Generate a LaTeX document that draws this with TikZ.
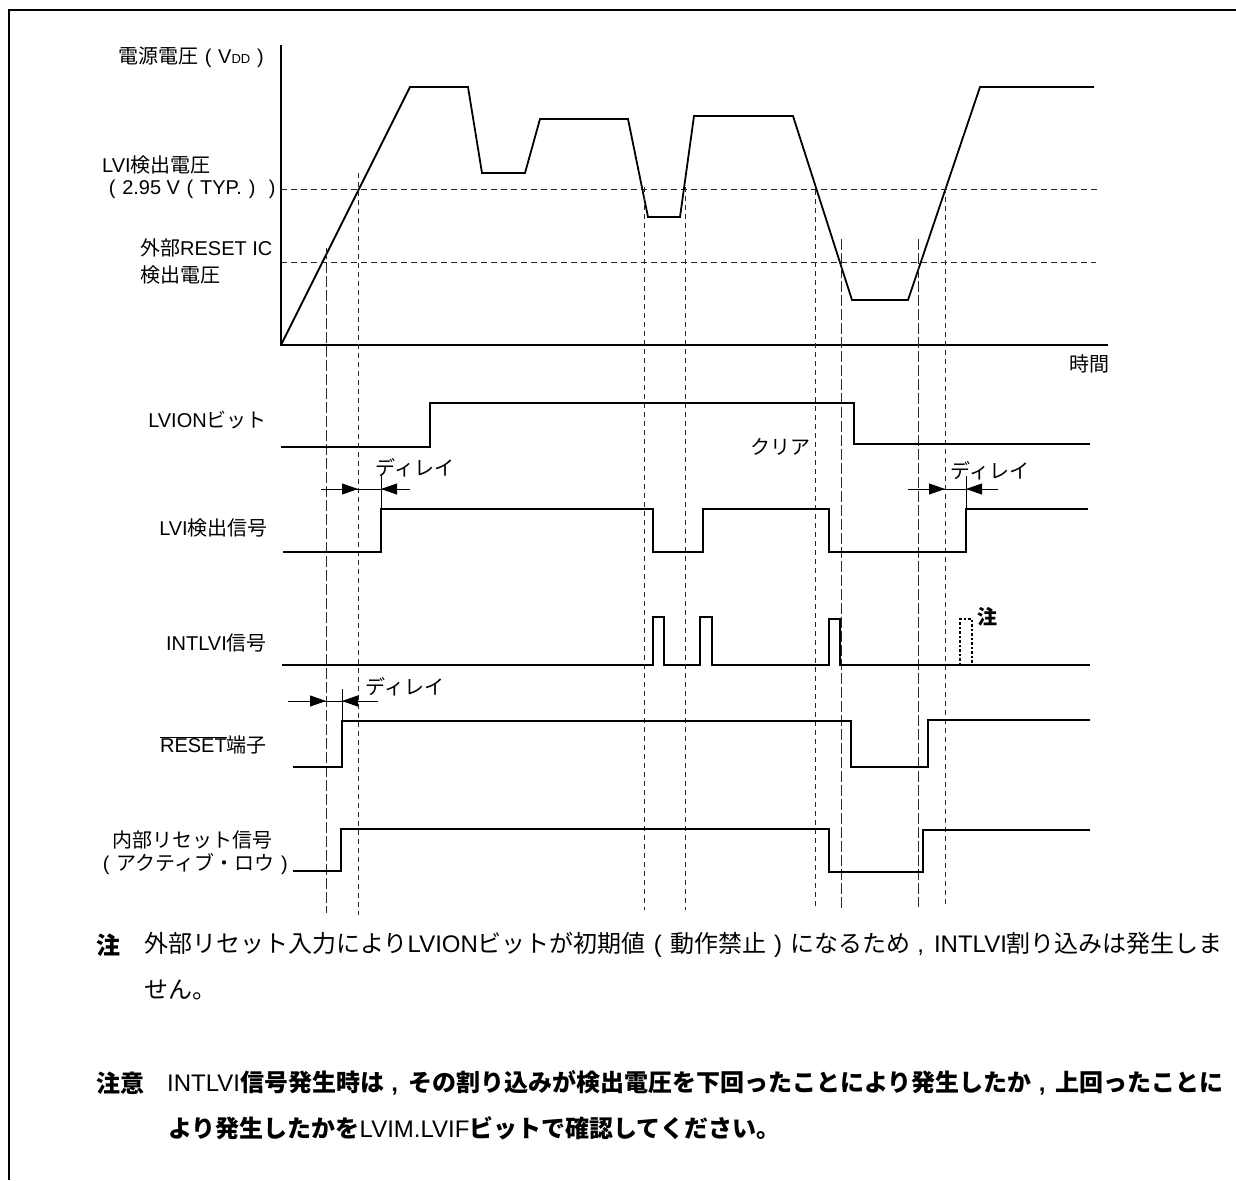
\documentclass[tikz,border=0pt]{standalone}
\usepackage{fontspec}
\setmainfont{Liberation Sans}
\newfontfamily\jp{Noto Sans CJK JP}
\usetikzlibrary{arrows.meta}
\newcommand\jlp{\hspace{0.33em}(\hspace{0.34em}}
\newcommand\jrp{\hspace{0.34em})\hspace{0.33em}}
\newcommand\jcm{\hspace{0.3em},\hspace{0.42em}}
\begin{document}
\begin{tikzpicture}[x=1pt,y=-1pt,
  wave/.style={line width=1.8pt, line join=miter},
  axisln/.style={line width=2pt},
  dsh/.style={line width=1pt, black!85, dash pattern=on 5pt off 4pt},
  ldsh/.style={line width=1pt, black!85, dash pattern=on 11pt off 3pt},
  hdsh/.style={line width=1pt, black!85, dash pattern=on 6pt off 4pt},
  lbl/.style={font=\fontsize{20}{24}\selectfont, inner sep=0pt},
  notetxt/.style={font=\fontsize{24}{28}\selectfont, inner sep=0pt, anchor=west},
  dly/.style={line width=0.8pt},
  dlytip/.style={line width=0.8pt, -{Triangle[length=16pt,width=11pt]}}
]
\useasboundingbox (0,0) rectangle (1236,1180);
% frame
\draw[line width=2pt] (9,1180) -- (9,10) -- (1236,10);

% axes
\draw[axisln] (281,45) -- (281,345) -- (1108,345);
\node[lbl, anchor=east] (time) at (1110,364) {\jp 時間};

% threshold lines
\draw[hdsh] (281,189) -- (1099,189);
\draw[hdsh] (281,262) -- (1096,262);

% VDD waveform
\draw[wave] (281,345) -- (410,87) -- (468,87) -- (482,173) -- (525,173) -- (540,119) -- (628,119) -- (648,217) -- (680,217) -- (694,116) -- (793,116) -- (852,300) -- (908,300) -- (980,87) -- (1094,87);

% vertical guide lines
\draw[ldsh] (326,248) -- (326,913);
\draw[dsh] (358,173) -- (358,915);
\draw[dsh] (644,187) -- (644,910);
\draw[dsh] (685,187) -- (685,910);
\draw[dsh] (815,190) -- (815,910);
\draw[ldsh] (841,239) -- (841,908);
\draw[ldsh] (918,239) -- (918,907);
\draw[dsh] (945,188) -- (945,905);

% top labels
\node[lbl, anchor=east] (vdd) at (264,57) {{\jp 電源電圧}\jlp V{\fontsize{13}{13}\selectfont DD}\jrp};
\node[lbl, anchor=west] (lvia) at (102,165) {LVI{\jp 検出電圧}};
\node[lbl, anchor=west] (lvib) at (102,189) {\jlp 2.95 V\jlp TYP.\jrp\jrp};
\node[lbl, anchor=west] (exta) at (140,248) {{\jp 外部}RESET IC};
\node[lbl, anchor=west] (extb) at (140,275) {\jp 検出電圧};

% LVION bit
\node[lbl, anchor=east] (lvion) at (267,420) {LVION{\jp ビット}};
\draw[wave] (281,447) -- (430,447) -- (430,403) -- (854,403) -- (854,444) -- (1090,444);
\node[lbl] (clr) at (780,447) {\jp クリア};

% LVI detect signal
\node[lbl, anchor=east] (lvidet) at (268,528) {LVI{\jp 検出信号}};
\draw[wave] (283,552) -- (381,552) -- (381,509) -- (653,509) -- (653,552) -- (703,552) -- (703,509) -- (829,509) -- (829,552) -- (966,552) -- (966,509) -- (1088,509);

% delay 1
\draw[dly] (321,489) -- (410,489);
\draw[dlytip] (321,489) -- (358,489);
\draw[dlytip] (410,489) -- (381,489);
\draw[dly] (381,475) -- (381,509);
\node[lbl] (d1) at (415,468) {\jp ディレイ};

% delay 2
\draw[dly] (908,489) -- (998,489);
\draw[dlytip] (908,489) -- (945,489);
\draw[dlytip] (998,489) -- (966,489);
\draw[dly] (966,476) -- (966,509);
\node[lbl] (d2) at (990,471) {\jp ディレイ};

% INTLVI
\node[lbl, anchor=east] (intlvi) at (267,643) {INTLVI{\jp 信号}};
\draw[wave] (282,665) -- (653,665) -- (653,617) -- (664,617) -- (664,665) -- (700,665) -- (700,617) -- (712,617) -- (712,665) -- (829,665) -- (829,619) -- (840,619) -- (840,665) -- (1090,665);
\draw[line width=1.3pt, dash pattern=on 2.5pt off 2pt] (960,665) -- (960,619) -- (972,619) -- (972,665);
\node[lbl, anchor=west] (chu) at (977,617) {\jp\bfseries 注};

% delay 3
\draw[dly] (288,701) -- (378,701);
\draw[dlytip] (288,701) -- (326,701);
\draw[dlytip] (378,701) -- (342,701);
\draw[dly] (342,689) -- (342,721);
\node[lbl] (d3) at (405,687) {\jp ディレイ};

% RESET pin
\node[lbl, anchor=east] (rst) at (267,745) {$\overline{\mbox{RESET}}${\jp 端子}};
\draw[wave] (293,767) -- (342,767) -- (342,721) -- (851,721) -- (851,767) -- (928,767) -- (928,720) -- (1090,720);

% internal reset
\node[lbl] (irsta) at (192,840) {\jp 内部リセット信号};
\node[lbl] (irstb) at (192,864) {\jlp{\jp アクティブ・ロウ}\jrp};
\draw[wave] (293,871) -- (341,871) -- (341,829) -- (829,829) -- (829,872) -- (923,872) -- (923,830) -- (1090,830);

% notes
\node[notetxt] (n1k) at (96,945) {\jp\bfseries 注};
\node[notetxt] (n1a) at (144,945) {{\jp 外部リセット入力により}LVION{\jp ビットが初期値}\jlp{\jp 動作禁止}\jrp{\jp になるため}\jcm INTLVI{\jp 割り込みは発生しま}};
\node[notetxt] (n1b) at (144,990) {\jp せん。};
\node[notetxt] (n2k) at (96,1083) {\jp\bfseries 注意};
\node[notetxt] (n2a) at (167,1083) {INTLVI{\jp\bfseries 信号発生時は}{\bfseries\jcm}{\jp\bfseries その割り込みが検出電圧を下回ったことにより発生したか}{\bfseries\jcm}{\jp\bfseries 上回ったことに}};
\node[notetxt] (n2b) at (168,1128) {{\jp\bfseries より発生したかを}LVIM.LVIF{\jp\bfseries ビットで確認してください。}};
\end{tikzpicture}
\end{document}
